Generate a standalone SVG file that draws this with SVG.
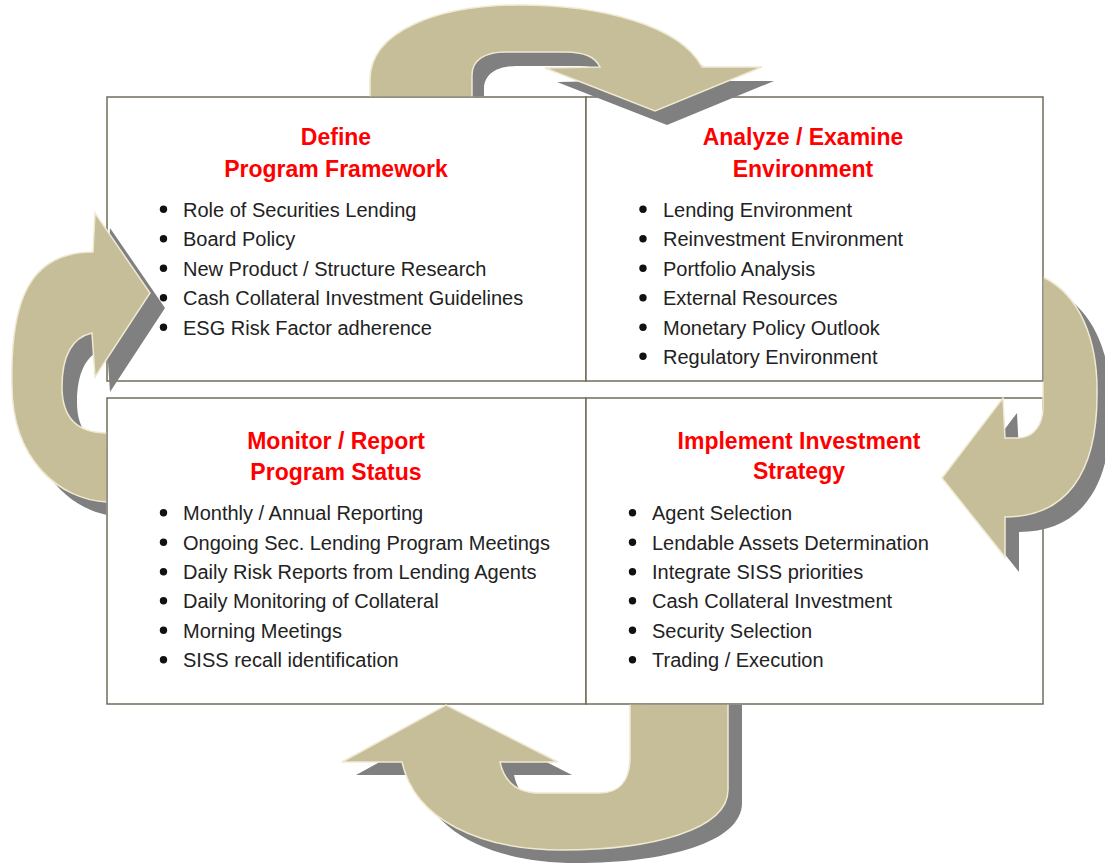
<svg xmlns="http://www.w3.org/2000/svg" width="1105" height="864" viewBox="0 0 1105 864">
<style>
.box{fill:#ffffff;stroke:#716c5a;stroke-width:1.5}
.title{font-family:'Liberation Sans',Arial,sans-serif;font-weight:bold;font-size:23px;fill:#ff0000;text-anchor:middle}
.item{font-family:'Liberation Sans',Arial,sans-serif;font-size:20px;fill:#222222}
.dot{fill:#111111}
.tan{fill:#c6be98;stroke:#efe9d2;stroke-width:1.5}
.shd{fill:#808080}
</style>
<defs>
<clipPath id="clipTL"><path clip-rule="evenodd" d="M0,0H1105V864H0Z M106.25,96.25H586.75V381.75H106.25Z"/></clipPath>
<clipPath id="clipTR"><path clip-rule="evenodd" d="M0,0H1105V864H0Z M585.25,96.25H1043.75V381.75H585.25Z"/></clipPath>
<clipPath id="clipBR"><path clip-rule="evenodd" d="M0,0H1105V864H0Z M585.25,397.25H1043.75V704.75H585.25Z"/></clipPath>
<clipPath id="clipBL"><path clip-rule="evenodd" d="M0,0H1105V864H0Z M106.25,397.25H586.75V704.75H106.25Z"/></clipPath>
<path id="arTop" d="M370,140 L370,80 C370,30 440,5 520,5 C600,5 680,25 702,67 L762,67 L655,111 L545,68 L600,67 C595,57 585,52 565,52 L505,52 C485,52 472,60 472,75 L472,140 Z"/>
<path id="arRight" d="M1043,277 C1080,295 1098,340 1097,395 C1097,475 1065,517 1005,517 L1005,557 L942,478 L1003,398 L1005,438 L1018,438 C1033,438 1043,425 1043,408 Z"/>
<path id="arBottom" d="M630,670 L728,670 L728,790 C728,830 650,850 563,850 C480,850 415,820 402,762 L342,762 L446,705 L558,762 L500,762 C505,785 520,793 540,793 L600,793 C620,793 630,780 630,757 Z"/>
<path id="arLeft" d="M140,502 L107,502 C60,500 12,460 12,385 C10,300 30,252 93,252 L95,213 L150,293 L95,377 L92,333 C70,338 62,360 62,387 C62,415 75,433 107,433 L140,433 Z"/>
</defs>

<g id="node-define">
<rect class="box" x="107" y="97" width="479" height="284"/>
<text class="title" x="336" y="145">Define</text>
<text class="title" x="336" y="177">Program Framework</text>
<circle class="dot" cx="163.5" cy="209.2" r="3.7"/><text class="item" x="183" y="216.5">Role of Securities Lending</text>
<circle class="dot" cx="163.5" cy="238.7" r="3.7"/><text class="item" x="183" y="246">Board Policy</text>
<circle class="dot" cx="163.5" cy="268.2" r="3.7"/><text class="item" x="183" y="275.5">New Product / Structure Research</text>
<circle class="dot" cx="163.5" cy="297.7" r="3.7"/><text class="item" x="183" y="305">Cash Collateral Investment Guidelines</text>
<circle class="dot" cx="163.5" cy="327.2" r="3.7"/><text class="item" x="183" y="334.5">ESG Risk Factor adherence</text>
</g>

<g id="node-analyze">
<rect class="box" x="586" y="97" width="457" height="284"/>
<text class="title" x="803" y="145">Analyze / Examine</text>
<text class="title" x="803" y="177">Environment</text>
<circle class="dot" cx="643" cy="209.2" r="3.7"/><text class="item" x="663" y="216.5">Lending Environment</text>
<circle class="dot" cx="643" cy="238.7" r="3.7"/><text class="item" x="663" y="246">Reinvestment Environment</text>
<circle class="dot" cx="643" cy="268.2" r="3.7"/><text class="item" x="663" y="275.5">Portfolio Analysis</text>
<circle class="dot" cx="643" cy="297.7" r="3.7"/><text class="item" x="663" y="305">External Resources</text>
<circle class="dot" cx="643" cy="327.2" r="3.7"/><text class="item" x="663" y="334.5">Monetary Policy Outlook</text>
<circle class="dot" cx="643" cy="356.2" r="3.7"/><text class="item" x="663" y="363.5">Regulatory Environment</text>
</g>

<g id="node-monitor">
<rect class="box" x="107" y="398" width="479" height="306"/>
<text class="title" x="336" y="448.5">Monitor / Report</text>
<text class="title" x="336" y="480">Program Status</text>
<circle class="dot" cx="163.5" cy="512.7" r="3.7"/><text class="item" x="183" y="520">Monthly / Annual Reporting</text>
<circle class="dot" cx="163.5" cy="542.2" r="3.7"/><text class="item" x="183" y="549.5">Ongoing Sec. Lending Program Meetings</text>
<circle class="dot" cx="163.5" cy="571.7" r="3.7"/><text class="item" x="183" y="579">Daily Risk Reports from Lending Agents</text>
<circle class="dot" cx="163.5" cy="600.7" r="3.7"/><text class="item" x="183" y="608">Daily Monitoring of Collateral</text>
<circle class="dot" cx="163.5" cy="630.2" r="3.7"/><text class="item" x="183" y="637.5">Morning Meetings</text>
<circle class="dot" cx="163.5" cy="659.7" r="3.7"/><text class="item" x="183" y="667">SISS recall identification</text>
</g>

<g id="node-implement">
<rect class="box" x="586" y="398" width="457" height="306"/>
<text class="title" x="799" y="448.5">Implement Investment</text>
<text class="title" x="799" y="479">Strategy</text>
<circle class="dot" cx="632.5" cy="512.7" r="3.7"/><text class="item" x="652" y="520">Agent Selection</text>
<circle class="dot" cx="632.5" cy="542.2" r="3.7"/><text class="item" x="652" y="549.5">Lendable Assets Determination</text>
<circle class="dot" cx="632.5" cy="571.7" r="3.7"/><text class="item" x="652" y="579">Integrate SISS priorities</text>
<circle class="dot" cx="632.5" cy="600.7" r="3.7"/><text class="item" x="652" y="608">Cash Collateral Investment</text>
<circle class="dot" cx="632.5" cy="630.2" r="3.7"/><text class="item" x="652" y="637.5">Security Selection</text>
<circle class="dot" cx="632.5" cy="659.7" r="3.7"/><text class="item" x="652" y="667">Trading / Execution</text>
</g>

<g id="connectors">
<g id="arrow-top" clip-path="url(#clipTL)">
<use href="#arTop" class="shd" transform="translate(12,14)"/>
<use href="#arTop" class="tan"/>
</g>
<g id="arrow-right" clip-path="url(#clipTR)">
<use href="#arRight" class="shd" transform="translate(14,15)"/>
<use href="#arRight" class="tan"/>
</g>
<g id="arrow-bottom" clip-path="url(#clipBR)">
<use href="#arBottom" class="shd" transform="translate(14,13)"/>
<use href="#arBottom" class="tan"/>
</g>
<g id="arrow-left" clip-path="url(#clipBL)">
<use href="#arLeft" class="shd" transform="translate(15,15)"/>
<use href="#arLeft" class="tan"/>
</g>
</g>
</svg>
